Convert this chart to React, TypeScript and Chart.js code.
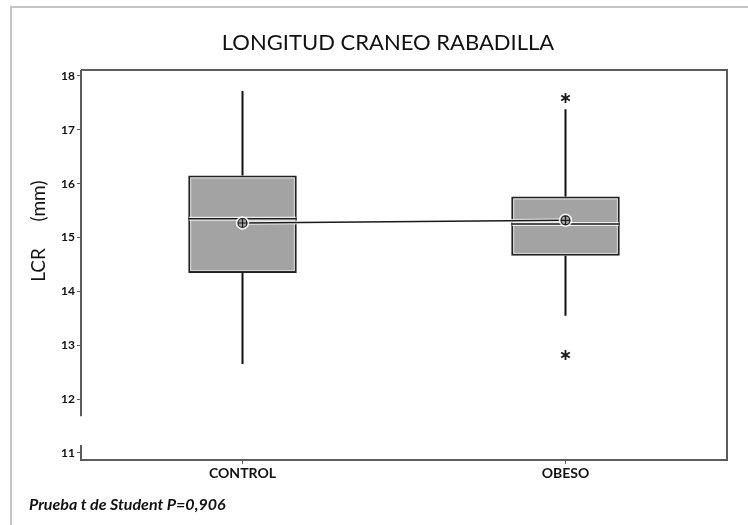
import React, { useEffect, useRef } from "react";
import { Chart, registerables } from "chart.js";

Chart.register(...registerables);

const categories = ["CONTROL", "OBESO"];
const q1Values = [14.34, 14.66];
const q3Values = [16.15, 15.76];
const medianValues = [15.35, 15.25];
const meanValues = [15.27, 15.32];
const whiskerLow = [12.65, 13.55];
const whiskerHigh = [17.72, 17.38];
const outlierValues: number[][] = [[], [17.59, 12.82]];
const yTickValues = [11, 12, 13, 14, 15, 16, 17, 18];

const titleText = "LONGITUD CRANEO RABADILLA";
const yAxisName = "LCR";
const yAxisUnit = "(mm)";
const footerText = "Prueba t de Student P=0,906";

const boxPlugin = {
  id: "boxDetails",
  beforeDraw(chart: any) {
    const ctx = chart.ctx;
    ctx.save();
    ctx.fillStyle = "#ffffff";
    ctx.fillRect(0, 0, chart.width, chart.height);
    ctx.strokeStyle = "#c4c4c4";
    ctx.lineWidth = 2;
    ctx.beginPath();
    ctx.moveTo(11, chart.height);
    ctx.lineTo(11, 7);
    ctx.lineTo(chart.width, 7);
    ctx.stroke();
    ctx.restore();
  },
  beforeDatasetsDraw(chart: any) {
    const ctx = chart.ctx;
    const y = chart.scales.y;
    const meta = chart.getDatasetMeta(0);
    ctx.save();
    ctx.strokeStyle = "#111111";
    ctx.lineWidth = 2;
    meta.data.forEach((bar: any, i: number) => {
      ctx.beginPath();
      ctx.moveTo(bar.x, y.getPixelForValue(whiskerHigh[i]));
      ctx.lineTo(bar.x, y.getPixelForValue(q3Values[i]));
      ctx.moveTo(bar.x, y.getPixelForValue(q1Values[i]));
      ctx.lineTo(bar.x, y.getPixelForValue(whiskerLow[i]));
      ctx.stroke();
    });
    ctx.restore();
  },
  afterDatasetsDraw(chart: any) {
    const ctx = chart.ctx;
    const y = chart.scales.y;
    const area = chart.chartArea;
    const meta = chart.getDatasetMeta(0);
    ctx.save();
    meta.data.forEach((bar: any, i: number) => {
      const left = bar.x - bar.width / 2;
      const right = bar.x + bar.width / 2;
      const top = y.getPixelForValue(q3Values[i]);
      const bottom = y.getPixelForValue(q1Values[i]);
      ctx.strokeStyle = "rgba(255,255,255,0.55)";
      ctx.lineWidth = 1;
      ctx.strokeRect(left + 2.5, top + 2.5, right - left - 5, bottom - top - 5);
      const my = y.getPixelForValue(medianValues[i]);
      ctx.strokeStyle = "rgba(255,255,255,0.8)";
      ctx.lineWidth = 4;
      ctx.beginPath();
      ctx.moveTo(left + 1, my);
      ctx.lineTo(right - 1, my);
      ctx.stroke();
      ctx.strokeStyle = "#1a1a1a";
      ctx.lineWidth = 1.5;
      ctx.beginPath();
      ctx.moveTo(left, my);
      ctx.lineTo(right, my);
      ctx.stroke();
    });
    const pts = meta.data.map((bar: any, i: number) => ({ x: bar.x, y: y.getPixelForValue(meanValues[i]) }));
    ctx.strokeStyle = "rgba(255,255,255,0.85)";
    ctx.lineWidth = 3.5;
    ctx.beginPath();
    pts.forEach((p: any, k: number) => (k ? ctx.lineTo(p.x, p.y) : ctx.moveTo(p.x, p.y)));
    ctx.stroke();
    ctx.strokeStyle = "#1a1a1a";
    ctx.lineWidth = 1.5;
    ctx.beginPath();
    pts.forEach((p: any, k: number) => (k ? ctx.lineTo(p.x, p.y) : ctx.moveTo(p.x, p.y)));
    ctx.stroke();
    pts.forEach((p: any) => {
      const r = 4.5;
      ctx.strokeStyle = "rgba(255,255,255,0.85)";
      ctx.lineWidth = 2.5;
      ctx.beginPath();
      ctx.arc(p.x, p.y, r + 1, 0, Math.PI * 2);
      ctx.stroke();
      ctx.fillStyle = "#a3a3a3";
      ctx.beginPath();
      ctx.arc(p.x, p.y, r, 0, Math.PI * 2);
      ctx.fill();
      ctx.strokeStyle = "#1a1a1a";
      ctx.lineWidth = 1.2;
      ctx.beginPath();
      ctx.arc(p.x, p.y, r, 0, Math.PI * 2);
      ctx.moveTo(p.x - r, p.y);
      ctx.lineTo(p.x + r, p.y);
      ctx.moveTo(p.x, p.y - r);
      ctx.lineTo(p.x, p.y + r);
      ctx.stroke();
    });
    ctx.strokeStyle = "#1a1a1a";
    ctx.lineWidth = 1.8;
    meta.data.forEach((bar: any, i: number) => {
      outlierValues[i].forEach((v) => {
        const oy = y.getPixelForValue(v);
        const r = 5;
        ctx.beginPath();
        for (let a = 0; a < 3; a++) {
          const ang = Math.PI / 2 + (a * Math.PI) / 3;
          ctx.moveTo(bar.x + r * Math.cos(ang), oy + r * Math.sin(ang));
          ctx.lineTo(bar.x - r * Math.cos(ang), oy - r * Math.sin(ang));
        }
        ctx.stroke();
      });
    });
    ctx.strokeStyle = "#5c5c5c";
    ctx.lineWidth = 2;
    ctx.beginPath();
    ctx.moveTo(area.left, area.top);
    ctx.lineTo(area.right, area.top);
    ctx.lineTo(area.right, area.bottom);
    ctx.moveTo(area.left, area.top);
    ctx.lineTo(area.left, y.getPixelForValue(11.68));
    ctx.moveTo(area.left, y.getPixelForValue(11.15));
    ctx.lineTo(area.left, area.bottom);
    ctx.stroke();
    ctx.restore();
  },
  afterDraw(chart: any) {
    const ctx = chart.ctx;
    ctx.save();
    ctx.fillStyle = "#111111";
    ctx.textBaseline = "middle";
    ctx.textAlign = "center";
    ctx.font = '22px "Lato"';
    ctx.fillText(titleText, 388, 43);
    ctx.save();
    ctx.translate(39, 0);
    ctx.rotate(-Math.PI / 2);
    ctx.font = '19px "Lato"';
    ctx.fillText(yAxisName, -265, 0);
    ctx.fillText(yAxisUnit, -201, 0);
    ctx.restore();
    ctx.textAlign = "left";
    ctx.font = 'italic bold 16px "Lato"';
    ctx.fillText(footerText, 29, 505);
    ctx.restore();
  },
};

export default function App() {
  const ref = useRef<HTMLCanvasElement | null>(null);
  useEffect(() => {
    if (!ref.current) return;
    const chart = new Chart(ref.current, {
      type: "bar",
      data: {
        labels: categories,
        datasets: [
          {
            data: categories.map((_, i) => [q1Values[i], q3Values[i]]) as any,
            backgroundColor: "#a3a3a3",
            borderColor: "#222222",
            borderWidth: 2,
            borderSkipped: false,
            barPercentage: 0.336,
            categoryPercentage: 1,
          },
        ],
      },
      options: {
        animation: false,
        responsive: false,
        events: [],
        layout: { padding: { top: 70, right: 21, bottom: 0, left: 0 } },
        plugins: { legend: { display: false }, title: { display: false }, tooltip: { enabled: false } },
        scales: {
          x: {
            afterFit: (s: any) => {
              s.height = 65;
            },
            border: { display: true, color: "#5c5c5c", width: 2 },
            grid: { display: true, offset: false, drawOnChartArea: false, drawTicks: true, tickLength: 4, color: "#5c5c5c" },
            ticks: { color: "#111", font: { family: "Lato", size: 14, weight: "bold" }, padding: 1 },
          },
          y: {
            min: 10.87,
            max: 18.11,
            afterFit: (s: any) => {
              s.width = 81;
            },
            afterBuildTicks: (s: any) => {
              s.ticks = yTickValues.map((v) => ({ value: v }));
            },
            border: { display: false },
            grid: { display: true, drawOnChartArea: false, drawTicks: true, tickLength: 4, color: "#5c5c5c" },
            ticks: { color: "#111", font: { family: "Lato", size: 12, weight: "bold" }, padding: 2 },
          },
        },
      } as any,
      plugins: [boxPlugin],
    });
    return () => chart.destroy();
  }, []);
  return (
    <div style={{ position: "fixed", left: 0, top: 0, width: 748, height: 525, background: "#fff" }}>
      <canvas ref={ref} width={748} height={525} style={{ display: "block" }} />
    </div>
  );
}
